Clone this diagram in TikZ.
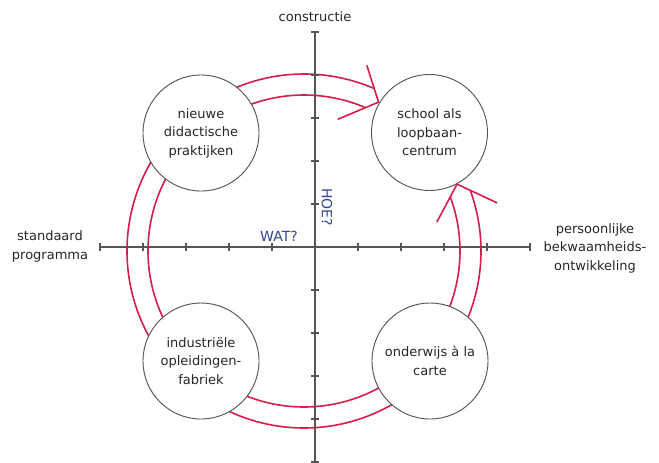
\documentclass[tikz,border=0pt]{standalone}
\usepackage{fontspec}
\setmainfont{DejaVu Sans}
\usetikzlibrary{backgrounds}
\definecolor{axisgray}{RGB}{85,85,85}
\definecolor{bandred}{RGB}{214,30,72}
\definecolor{askblue}{RGB}{50,70,150}

\begin{document}
\begin{tikzpicture}[x=0.75pt,y=0.75pt,
  every node/.style={font=\fontsize{9.75}{13.9}\selectfont},
  axis/.style={axisgray,line width=0.9pt},
  band/.style={bandred,line width=1.2pt},
  head/.style={band,line join=miter},
  field/.style={circle,draw=axisgray,line width=0.7pt,fill=white,minimum size=87pt,inner sep=0pt,align=center,text=black!85},
  pole/.style={align=center,text=black!85},
  ask/.style={text=askblue,font=\fontsize{10.5}{13.9}\selectfont}]
\useasboundingbox (-315,-215) rectangle (344,247);

% assen
\coordinate (xl) at (-215,0);
\coordinate (xr) at (215,0);
\coordinate (yb) at (0,-215);
\coordinate (yt) at (0,215);
\draw[axis] (xl) -- (xr);
\draw[axis] (yb) -- (yt);
\foreach \t in {-5,...,5}{
  \draw[axis] (\t*43,-4) -- (\t*43,4);
  \draw[axis] (-4,\t*43) -- (4,\t*43);
}

\node[pole] (constructie) at (0,230) {constructie};
\node[pole] (standaard) at (-265,0.5) {standaard\\programma};
\node[pole] (persoonlijk) at (280,-1) {persoonlijke\\bekwaamheids-\\ontwikkeling};
\node[ask] (wat) at (-36,11) {WAT?};
\node[ask,rotate=-90] (hoe) at (12,40) {HOE?};

% vier kwadranten
\node[field] (didactiek) at (-114,114) {nieuwe\\didactische\\praktijken};
\node[field] (loopbaan) at (114.5,114.5) {school als\\loopbaan-\\centrum};
\node[field] (fabriek) at (-114,-114) {industriële\\opleidingen-\\fabriek};
\node[field] (carte) at (115,-114) {onderwijs à la\\carte};

% de band rond het kruis
\begin{scope}[on background layer]
\coordinate (ring) at (-11,-4);
\draw[band] (ring) ++(114:177) arc[start angle=114,end angle=66.8,radius=177];
\draw[band] (ring) ++(112:156) arc[start angle=112,end angle=66.9,radius=156];
\draw[band] (ring) ++(147:177) arc[start angle=147,end angle=211,radius=177];
\draw[band] (ring) ++(150:156) arc[start angle=150,end angle=208,radius=156];
\draw[band] (ring) ++(243:177) arc[start angle=243,end angle=302.5,radius=177];
\draw[band] (ring) ++(246:156) arc[start angle=246,end angle=301,radius=156];
\draw[band] (ring) ++(-25:177) arc[start angle=-25,end angle=20,radius=177];
\draw[band] (ring) ++(-24:156) arc[start angle=-24,end angle=20.6,radius=156];
\end{scope}

\path (ring) ++(63.4:166.5) coordinate (tipT)
      (ring) ++(71.3:196) coordinate (barbT1)
      (ring) ++(75.6:136) coordinate (barbT2)
      (ring) ++(23.6:167) coordinate (tipR)
      (ring) ++(12.3:136) coordinate (barbR1)
      (ring) ++(14:199) coordinate (barbR2);
\draw[head] (barbT1) -- (tipT) -- (barbT2);
\draw[head] (barbR1) -- (tipR) -- (barbR2);
\end{tikzpicture}
\end{document}
